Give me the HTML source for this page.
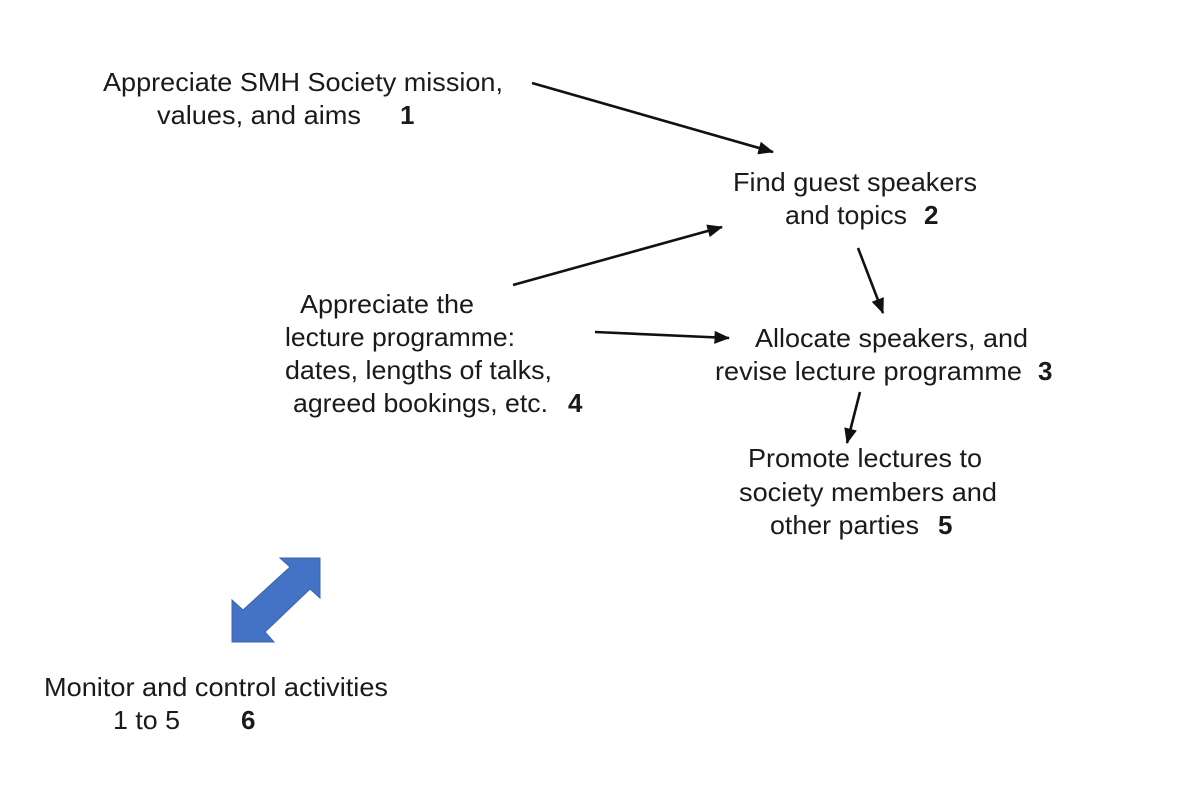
<!DOCTYPE html>
<html><head><meta charset="utf-8"><style>
html,body{margin:0;padding:0;background:#fff;}
svg{display:block;}
text{font-family:"Liberation Sans",Arial,sans-serif;font-size:26px;fill:#1a1a1a;}
.b{font-weight:bold;}
</style></head><body>
<svg width="1200" height="800" viewBox="0 0 1200 800" xmlns="http://www.w3.org/2000/svg">
<defs>
<marker id="ah" markerWidth="6" markerHeight="5" refX="5.6" refY="2.5" orient="auto" markerUnits="strokeWidth">
<path d="M0,0 L6,2.5 L0,5 Z" fill="#111"/>
</marker>
</defs>
<g stroke="#111" stroke-width="2.6" fill="none" marker-end="url(#ah)">
<line x1="532" y1="83" x2="773" y2="152"/>
<line x1="513" y1="285" x2="722" y2="227"/>
<line x1="595" y1="332" x2="729" y2="338"/>
<line x1="858" y1="248" x2="883" y2="313"/>
<line x1="860" y1="392" x2="847" y2="443"/>
</g>
<polygon points="320,558 320,598 310,589 265,632 274,642 232,642 232,600 243,610 290,567 280,558" fill="#4472c4" stroke="#3a64ad" stroke-width="1"/>

<text x="103" y="91" textLength="400" lengthAdjust="spacingAndGlyphs">Appreciate SMH Society mission,</text>
<text x="157" y="124" textLength="204" lengthAdjust="spacingAndGlyphs">values, and aims</text>
<text x="400" y="124" class="b">1</text>

<text x="733" y="191" textLength="244" lengthAdjust="spacingAndGlyphs">Find guest speakers</text>
<text x="785" y="224" textLength="122" lengthAdjust="spacingAndGlyphs">and topics</text>
<text x="924" y="224" class="b">2</text>

<text x="300" y="313" textLength="174" lengthAdjust="spacingAndGlyphs">Appreciate the</text>
<text x="285" y="346" textLength="230" lengthAdjust="spacingAndGlyphs">lecture programme:</text>
<text x="285" y="379" textLength="267" lengthAdjust="spacingAndGlyphs">dates, lengths of talks,</text>
<text x="293" y="412" textLength="255" lengthAdjust="spacingAndGlyphs">agreed bookings, etc.</text>
<text x="568" y="412" class="b">4</text>

<text x="755" y="347" textLength="273" lengthAdjust="spacingAndGlyphs">Allocate speakers, and</text>
<text x="715" y="380" textLength="307" lengthAdjust="spacingAndGlyphs">revise lecture programme</text>
<text x="1038" y="380" class="b">3</text>

<text x="748" y="467" textLength="234" lengthAdjust="spacingAndGlyphs">Promote lectures to</text>
<text x="739" y="501" textLength="258" lengthAdjust="spacingAndGlyphs">society members and</text>
<text x="770" y="534" textLength="149" lengthAdjust="spacingAndGlyphs">other parties</text>
<text x="938" y="534" class="b">5</text>

<text x="44" y="696" textLength="344" lengthAdjust="spacingAndGlyphs">Monitor and control activities</text>
<text x="113" y="729" textLength="67" lengthAdjust="spacingAndGlyphs">1 to 5</text>
<text x="241" y="729" class="b">6</text>
</svg>
</body></html>
